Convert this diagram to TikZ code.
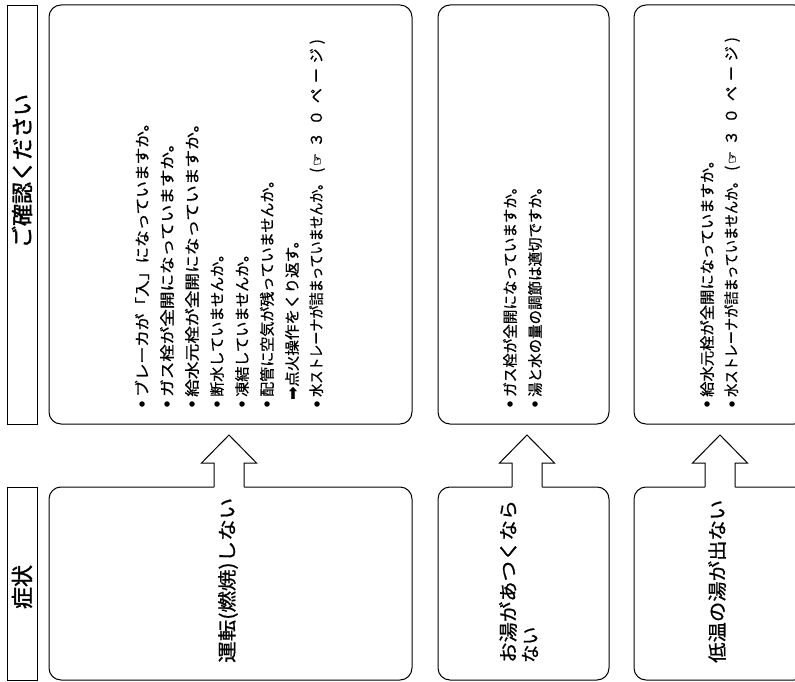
\documentclass[tikz,border=0pt]{standalone}
\usepackage{fontspec}
\usepackage{graphicx}
\newfontfamily\jp[FakeBold=0.7]{Noto Sans CJK JP}
\newfontfamily\jph[FakeBold=1.6]{Noto Sans CJK JP}
\newfontfamily\dv[FakeBold=0.6]{DejaVu Sans}
\usetikzlibrary{calc}
\tikzset{
  box/.style={draw, line width=1pt, rounded corners=12pt, inner sep=0pt, outer sep=0pt},
  headbox/.style={draw, line width=0.9pt, inner sep=0pt, outer sep=0pt},
  bodytext/.style={rotate=90, anchor=west, inner sep=0pt, font=\jp\fontsize{15}{15}\selectfont},
  symtext/.style={rotate=90, anchor=west, inner sep=0pt, font=\jp\fontsize{19}{19}\selectfont},
  headtext/.style={rotate=90, anchor=center, inner sep=0pt, font=\jph\fontsize{22}{22}\selectfont},
  dot/.style={circle, fill=black, inner sep=0pt, minimum size=5.5pt},
  blockarrow/.style={line width=1pt, line join=miter},
}
\newcommand\fw[2]{\resizebox{#1pt}{\height}{#2}}
\newcommand\myarrow[1]{%
  \fill[white] ($(#1)+(-15,0.9)$) -- ($(#1)+(-15,-24)$) -- ($(#1)+(-27.5,-24)$) -- ($(#1)+(0,-52)$) -- ($(#1)+(27.5,-24)$) -- ($(#1)+(15,-24)$) -- ($(#1)+(15,0.9)$) -- cycle;
  \draw[blockarrow] ($(#1)+(-15,0)$) -- ($(#1)+(-15,-24)$) -- ($(#1)+(-27.5,-24)$) -- ($(#1)+(0,-52)$) -- ($(#1)+(27.5,-24)$) -- ($(#1)+(15,-24)$) -- ($(#1)+(15,0)$);}
\newcommand\refpage{\kern4pt(\kern2pt{\dv\fontsize{14}{14}\selectfont ☞}\kern6pt ３\kern7pt ０\kern7pt ペ\kern5pt ー\kern5pt ジ\kern4pt)}
\begin{document}
\begin{tikzpicture}[x=1pt, y=-1pt]
\useasboundingbox (0,0) rectangle (795,682);
\clip (0,0) rectangle (795,682);
% header boxes
\node[headbox, minimum width=30pt, minimum height=419pt] (h1) at (22,214.5) {};
\node[headbox, minimum width=30pt, minimum height=193pt] (h2) at (22,583.5) {};
\node[headtext] (h1t) at (22,171) {ご確認ください};
\node[headtext] (h2t) at (22,587) {症状};
% check boxes
\node[box, minimum width=363pt, minimum height=419pt] (c1) at (230.5,214.5) {};
\node[box, minimum width=171pt, minimum height=419pt] (c2) at (523.5,214.5) {};
\node[box, minimum width=172pt, minimum height=419pt] (c3) at (720,214.5) {};
% symptom boxes
\node[box, minimum width=363pt, minimum height=193pt] (s1) at (230.5,583.5) {};
\node[box, minimum width=171pt, minimum height=193pt] (s2) at (523.5,583.5) {};
\node[box, minimum width=172pt, minimum height=193pt] (s3) at (720,583.5) {};
% arrows from symptom boxes to check boxes
\coordinate (a1) at (229,487);
\coordinate (a2) at (527,487);
\coordinate (a3) at (720,487);
\myarrow{a1}
\myarrow{a2}
\myarrow{a3}
% column 1 text
\node[dot] (b11) at (142,404) {};
\node[dot] (b12) at (167,404) {};
\node[dot] (b13) at (192,404) {};
\node[dot] (b14) at (217,404) {};
\node[dot] (b15) at (242,404) {};
\node[dot] (b16) at (267,404) {};
\node[dot] (b18) at (317,404) {};
\node[bodytext] (l11) at (142,397) {\fw{282}{ブレーカが「入」になっていますか。}};
\node[bodytext] (l12) at (167,397) {\fw{262}{ガス栓が全開になっていますか。}};
\node[bodytext] (l13) at (192,397) {\fw{282}{給水元栓が全開になっていますか。}};
\node[bodytext] (l14) at (217,397) {\fw{150}{断水していませんか。}};
\node[bodytext] (l15) at (242,397) {\fw{150}{凍結していませんか。}};
\node[bodytext] (l16) at (267,397) {\fw{224}{配管に空気が残っていませんか。}};
\node[bodytext] (l17) at (292,400) {\fw{167}{{\dv\fontsize{15}{15}\selectfont ➡}点火操作をくり返す。}};
\node[bodytext] (l18) at (317,397) {\fw{220}{水ストレーナが詰まっていませんか。}\refpage};
% column 2 text
\node[dot] (b21) at (510,404) {};
\node[dot] (b22) at (535,404) {};
\node[bodytext] (l21) at (510,397) {\fw{217}{ガス栓が全開になっていますか。}};
\node[bodytext] (l22) at (535,397) {\fw{217}{湯と水の量の調節は適切ですか。}};
% column 3 text
\node[dot] (b31) at (707,404) {};
\node[dot] (b32) at (732,404) {};
\node[bodytext] (l31) at (707,397) {\fw{244}{給水元栓が全開になっていますか。}};
\node[bodytext] (l32) at (732,397) {\fw{222}{水ストレーナが詰まっていませんか。}\refpage};
% symptom texts
\node[symtext] (t1) at (228,663) {\fw{165}{運転(燃焼)しない}};
\node[symtext] (t2a) at (508,663) {\fw{163}{お湯があつくなら}};
\node[symtext] (t2b) at (530,663) {\fw{36}{ない}};
\node[symtext] (t3) at (717,663) {\fw{163}{低温の湯が出ない}};
\end{tikzpicture}
\end{document}
